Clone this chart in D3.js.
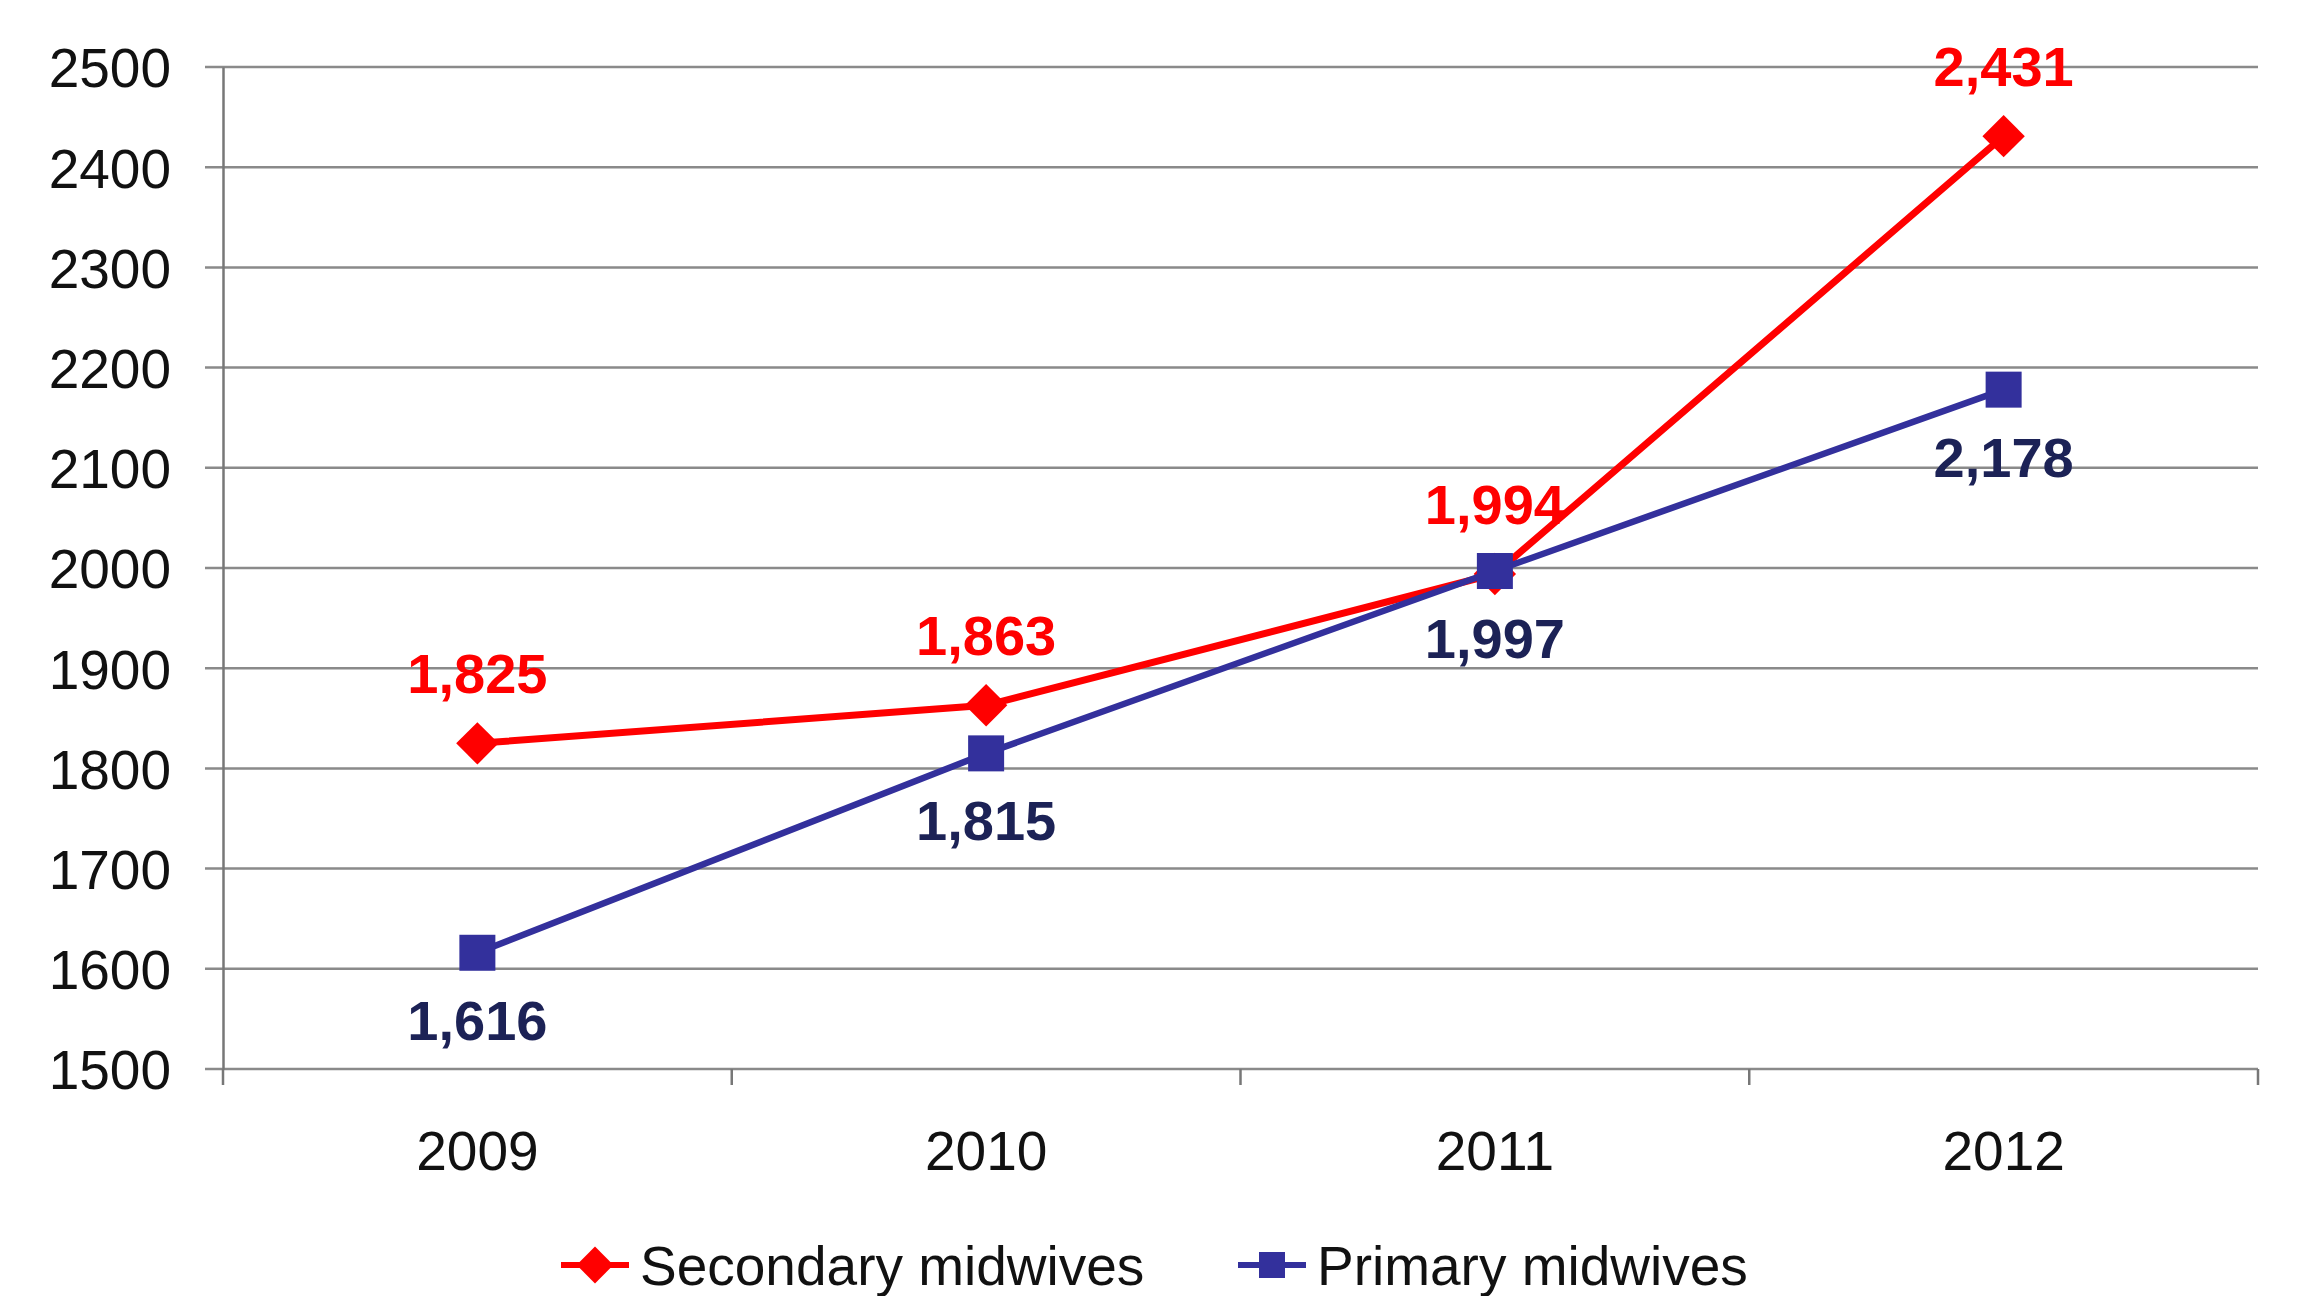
<!DOCTYPE html>
<html>
<head>
<meta charset="utf-8">
<script src="https://cdn.jsdelivr.net/npm/d3@7"></script>
<style>
  body { margin: 0; background: #fff; }
  svg { font-family: "Liberation Sans", Arial, sans-serif; }
</style>
</head>
<body>
<svg id="chart" width="2302" height="1296"></svg>
<script>
const years = ['2009', '2010', '2011', '2012'];
const secondary = [1825, 1863, 1994, 2431];
const primary = [1616, 1815, 1997, 2178];
const yTicks = [1500, 1600, 1700, 1800, 1900, 2000, 2100, 2200, 2300, 2400, 2500];
const seriesNames = ['Secondary midwives', 'Primary midwives'];

const svg = d3.select('#chart');
const margin = { left: 223, right: 44, top: 67, bottom: 227 };
const width = 2302, height = 1296;

const xScale = d3.scaleBand()
  .domain(years)
  .range([margin.left, width - margin.right]);

const yScale = d3.scaleLinear()
  .domain([1500, 2500])
  .range([height - margin.bottom, margin.top]);

// gridlines
svg.append('g')
  .selectAll('line')
  .data(yTicks)
  .enter().append('line')
  .attr('x1', margin.left - 18)
  .attr('x2', width - margin.right)
  .attr('y1', d => yScale(d))
  .attr('y2', d => yScale(d))
  .attr('stroke', '#8a8a8a')
  .attr('stroke-width', 2.5);

// y axis
const yAxis = svg.append('g')
  .attr('transform', `translate(${margin.left},0)`)
  .call(d3.axisLeft(yScale).tickValues(yTicks).tickSize(0).tickPadding(52).tickFormat(d3.format('d')));
yAxis.select('.domain').attr('stroke', '#777').attr('stroke-width', 2.5);
yAxis.selectAll('text')
  .attr('font-size', 55)
  .attr('fill', '#111')
  .attr('dy', '0.36em');

// x axis
const xAxis = svg.append('g')
  .attr('transform', `translate(0,${yScale(1500)})`)
  .call(d3.axisBottom(xScale).tickSize(0).tickPadding(62));
xAxis.select('.domain').remove();
xAxis.selectAll('text')
  .attr('font-size', 55)
  .attr('fill', '#111');

// band boundary ticks
const bounds = years.map(y => xScale(y)).concat([xScale(years[3]) + xScale.bandwidth()]);
svg.append('g')
  .selectAll('line')
  .data(bounds)
  .enter().append('line')
  .attr('x1', d => d).attr('x2', d => d)
  .attr('y1', yScale(1500)).attr('y2', yScale(1500) + 16)
  .attr('stroke', '#777')
  .attr('stroke-width', 2.5);

const cx = d => xScale(d) + xScale.bandwidth() / 2;
const line = d3.line()
  .x((d, i) => cx(years[i]))
  .y(d => yScale(d));

// secondary line
svg.append('path')
  .datum(secondary)
  .attr('d', line)
  .attr('fill', 'none')
  .attr('stroke', '#ff0000')
  .attr('stroke-width', 7);

svg.append('g')
  .selectAll('rect')
  .data(secondary)
  .enter().append('rect')
  .attr('x', -15).attr('y', -15)
  .attr('width', 30).attr('height', 30)
  .attr('fill', '#ff0000')
  .attr('transform', (d, i) => `translate(${cx(years[i])},${yScale(d)}) rotate(45)`);

// primary line
svg.append('path')
  .datum(primary)
  .attr('d', line)
  .attr('fill', 'none')
  .attr('stroke', '#33309c')
  .attr('stroke-width', 6.5);

svg.append('g')
  .selectAll('rect')
  .data(primary)
  .enter().append('rect')
  .attr('x', (d, i) => cx(years[i]) - 18)
  .attr('y', d => yScale(d) - 18)
  .attr('width', 36).attr('height', 36)
  .attr('fill', '#33309c');

// data labels
svg.append('g')
  .selectAll('text')
  .data(secondary)
  .enter().append('text')
  .attr('x', (d, i) => cx(years[i]))
  .attr('y', d => yScale(d) - 50)
  .attr('text-anchor', 'middle')
  .attr('font-size', 56)
  .attr('font-weight', 'bold')
  .attr('fill', '#ff0000')
  .text(d => d3.format(',')(d));

svg.append('g')
  .selectAll('text')
  .data(primary)
  .enter().append('text')
  .attr('x', (d, i) => cx(years[i]))
  .attr('y', d => yScale(d) + 87)
  .attr('text-anchor', 'middle')
  .attr('font-size', 56)
  .attr('font-weight', 'bold')
  .attr('fill', '#1c2256')
  .text(d => d3.format(',')(d));

// legend
const legendY = 1265;
const legend = [
  { name: seriesNames[0], x: 561, color: '#ff0000', shape: 'diamond' },
  { name: seriesNames[1], x: 1238, color: '#33309c', shape: 'square' }
];
const lg = svg.append('g').selectAll('g')
  .data(legend)
  .enter().append('g')
  .attr('transform', d => `translate(${d.x},${legendY})`);

lg.append('line')
  .attr('x1', 0).attr('x2', 68)
  .attr('y1', 0).attr('y2', 0)
  .attr('stroke', d => d.color)
  .attr('stroke-width', 6);

lg.append('rect')
  .attr('x', -13).attr('y', -13)
  .attr('width', 26).attr('height', 26)
  .attr('fill', d => d.color)
  .attr('transform', d => d.shape === 'diamond' ? 'translate(34,0) rotate(45)' : 'translate(34,0)');

lg.append('text')
  .attr('x', 79)
  .attr('y', 0)
  .attr('dy', '0.36em')
  .attr('font-size', 55)
  .attr('fill', '#111')
  .text(d => d.name);
</script>
</body>
</html>
